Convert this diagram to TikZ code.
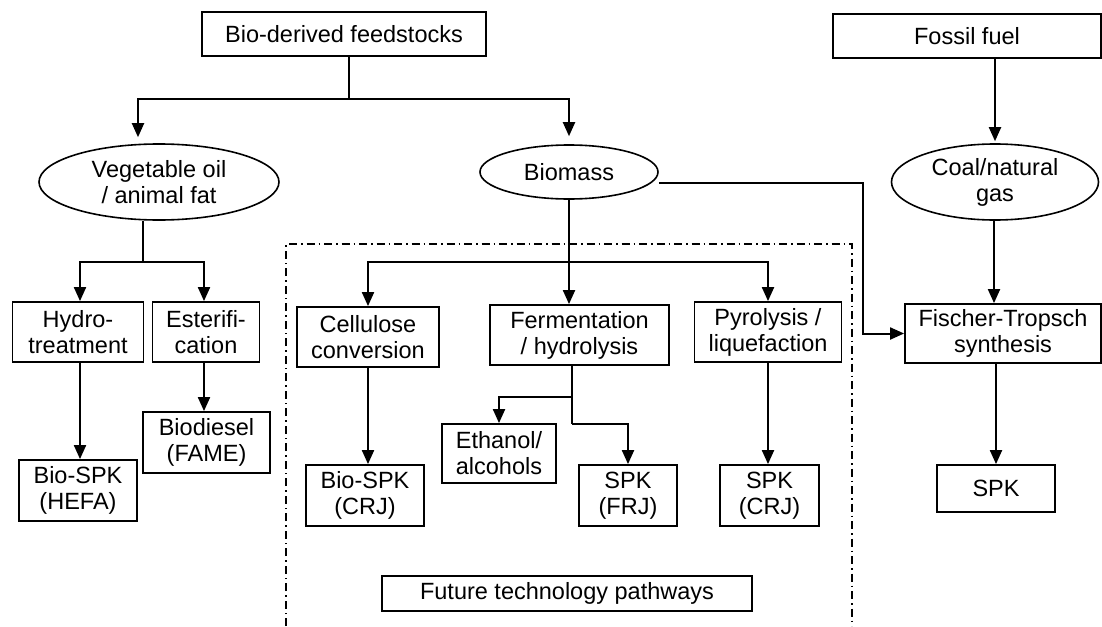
\documentclass[tikz,border=0pt]{standalone}
\usepackage{fontspec}
\setmainfont{Liberation Sans}
\usetikzlibrary{arrows.meta,shapes.geometric,calc}
\begin{document}
\begin{tikzpicture}[x=1pt,y=-1pt,
  every node/.style={font=\fontsize{23.5}{26}\selectfont, align=center, inner sep=0pt},
  box/.style={draw, line width=1.8pt, rectangle, minimum width=#1},
  oval/.style={draw, line width=1.6pt, ellipse},
  arr/.style={line width=2pt, -{Triangle[length=14pt,width=12pt]}},
  ln/.style={line width=2pt},
  future/.style={line width=1.4pt, dash pattern=on 8pt off 4pt on 1.5pt off 4pt}]
\useasboundingbox (0,0) rectangle (1102,626);
% nodes
\node[box=284, minimum height=44] (bio) at (344,34) {Bio-derived feedstocks};
\node[box=268, minimum height=44] (fossil) at (967,36) {Fossil fuel};
\node[oval, minimum width=240, minimum height=76] (veg) at (159,182) {Vegetable oil\\/ animal fat};
\node[oval, minimum width=178, minimum height=54] (biomass) at (569,172) {Biomass};
\node[oval, minimum width=207, minimum height=76] (coal) at (995,182) {Coal/natural\\gas};
\node[box=131, minimum height=60] (hydro) at (78,332) {Hydro-\\treatment};
\node[box=107, minimum height=60] (ester) at (206,332) {Esterifi-\\cation};
\node[box=118, minimum height=61] (hefa) at (78,490.5) {Bio-SPK\\(HEFA)};
\node[box=127, minimum height=61] (biod) at (206.5,442.5) {Biodiesel\\(FAME)};
\node[box=142, minimum height=60] (cell) at (368,337) {Cellulose\\conversion};
\node[box=179, minimum height=60] (ferm) at (579.5,335) {Fermentation\\/ hydrolysis};
\node[box=147, minimum height=60] (pyro) at (768,332) {Pyrolysis /\\liquefaction};
\node[box=196, minimum height=59] (ft) at (1003,333.5) {Fischer-Tropsch\\synthesis};
\node[box=118, minimum height=61] (bspkc) at (365,495.5) {Bio-SPK\\(CRJ)};
\node[box=114, minimum height=59] (eth) at (499,453.5) {Ethanol/\\alcohols};
\node[box=98, minimum height=61] (spkf) at (628,495.5) {SPK\\(FRJ)};
\node[box=99, minimum height=61] (spkc) at (769.5,495.5) {SPK\\(CRJ)};
\node[box=118, minimum height=47] (spk) at (996,488.5) {SPK};
\node[box=370, minimum height=35] (fut) at (567,593.5) {Future technology pathways};
% future pathways frame
\draw[future] (286,626) -- (286,244) -- (852,244) -- (852,626);
% junction coordinates
\coordinate (jb) at (349,99);
\coordinate (jv) at (143,262);
\coordinate (jm) at (569,262);
\coordinate (jf) at (863,183);
\coordinate (jf1) at (572,397);
\coordinate (jf2) at (572,424);
% connectors
\draw[ln] (jb |- bio.south) -- (jb);
\draw[arr, shorten >=6pt] (jb) -| ([xshift=-21pt]veg.north);
\draw[arr, shorten >=8pt] (jb) -| (biomass.north);
\draw[ln] ([xshift=-16pt]veg.south) -- (jv);
\draw[arr] (jv) -| ([xshift=2pt]hydro.north);
\draw[arr] (jv) -| ([xshift=-2pt]ester.north);
\draw[arr] ([xshift=2pt]hefa.north |- hydro.south) -- ([xshift=2pt]hefa.north);
\draw[arr] ([xshift=-2pt]ester.south) -- ([xshift=-2pt]ester.south |- biod.north);
\draw[arr] (biomass.south) -- (biomass.south |- ferm.north);
\draw[arr] (jm) -| (cell.north);
\draw[arr] (jm) -| (pyro.north);
\draw[arr] ([yshift=-11pt]biomass.east) -- (jf) |- (ft.west);
\draw[arr, shorten >=2pt] (fossil.south -| coal.north) -- (coal.north);
\draw[arr] ([xshift=-1pt]coal.south) -- ([xshift=-1pt]coal.south |- ft.north);
\draw[arr] (ft.south -| spk.north) -- (spk.north);
\draw[arr] (cell.south) -- (cell.south |- bspkc.north);
\draw[ln] ([xshift=-7.5pt]ferm.south) -- (jf2);
\draw[arr] (jf1) -| (eth.north);
\draw[arr] (jf2) -| (spkf.north);
\draw[arr] (pyro.south) -- (pyro.south |- spkc.north);
\end{tikzpicture}
\end{document}
